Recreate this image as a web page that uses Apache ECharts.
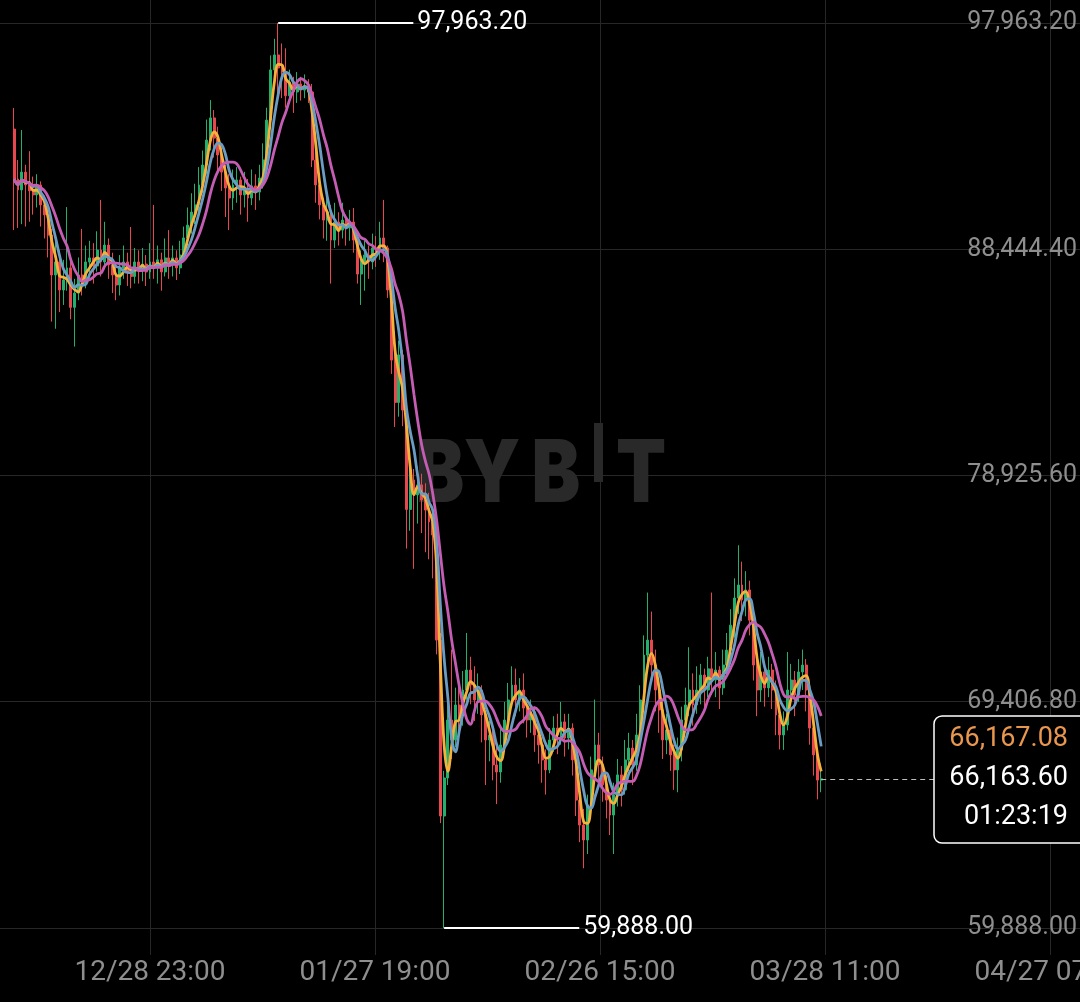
<!DOCTYPE html>
<html><head><meta charset="utf-8">
<script src="https://cdn.jsdelivr.net/npm/echarts@6/dist/echarts.min.js"></script>
<style>html,body{margin:0;padding:0;background:#000;}#c{width:1080px;height:1002px;}</style>
</head><body><div id="c"></div>
<script>
// ---- data (12h candles, time in hours relative to 12/28 23:00) ----
const firstCandleHour = -432;
const candleHours = 12;
const opens = [
93500,91400,90940,91690,91150,90900,90730,91150,90310,89890,
89040,87360,87910,86730,87150,87660,86000,86600,87360,87000,
87910,88080,87740,88410,87910,88620,87780,87360,86940,87660,
87910,87490,87300,87910,87570,87820,87490,87910,87660,88000,
87490,88080,87780,88080,87660,88200,88920,89460,90010,90310,
91150,91990,93040,93970,93120,92410,91690,91020,90600,91150,
91360,90730,91020,90600,91110,90850,91440,92200,93880,95990,
96620,96070,95900,94900,95480,95060,95400,95140,95310,95060,
92200,91150,90310,89670,90010,88830,89590,89250,89670,89340,
89590,88830,87400,87900,88200,87910,88500,88330,88920,88500,
86730,83780,82000,84000,81680,77500,78740,78110,78530,77900,
77470,76970,76420,72000,64600,66200,68640,67800,69270,68850,
69900,70740,70110,69480,69900,68850,67800,68000,66750,66450,
67590,68640,69480,70110,69480,69900,69140,68640,68980,68010,
67590,66960,66540,67800,68300,68010,68560,67880,68300,66960,
65270,64220,63590,65060,66540,67590,66750,65910,65270,64640,
65490,66330,65700,66960,67460,66750,68010,69480,71370,72000,
70950,69900,69060,67800,68220,67170,66540,67380,68640,69270,
69900,69270,69900,70530,69900,70790,70320,70740,69990,70950,
71580,72630,73770,74320,73690,74110,72840,70950,69900,70660,
69990,70740,69900,68850,68010,68430,69900,70320,69690,70660,
70950,69900,68300,67170,66110];
const highs = [
94390,92200,93460,92000,92570,91500,91600,91300,90700,90200,
89300,88900,88400,88000,90220,88000,87200,88100,89300,88600,
88800,88700,89200,90520,89600,88900,88300,87900,88200,88600,
88300,89380,88500,88400,88500,88200,88700,90310,88600,88300,
88900,89250,88600,88400,88800,89400,90200,90800,91200,91900,
92600,93900,94720,94300,93600,92700,92000,91600,91800,91900,
91500,91700,91400,91800,91600,92000,92900,94400,96600,97300,
97963.2,97100,96900,96000,95700,95900,95700,95800,95600,95400,
92600,91600,90600,90700,90300,90400,90000,90400,89900,90100,
90180,89200,88400,88800,88600,89100,89000,89600,90520,88600,
86900,85000,84600,84200,82000,79500,79200,79300,79000,78600,
78200,77600,76800,72300,66500,69500,71600,70000,70400,70700,
72300,71300,70900,70600,70100,69000,68600,68200,67500,68300,
69400,70200,70900,70800,70400,70600,69600,69500,69200,68400,
67900,67400,68300,68800,68900,69400,68900,68900,68500,67200,
65600,64900,65500,67100,69500,68100,67100,66300,65600,66000,
67000,66700,67800,68100,67800,68900,70100,72200,74000,73200,
71600,70300,69400,68900,68400,67600,67900,69200,70000,71700,
70600,70900,71000,70800,71300,74000,71500,70900,71600,72300,
73300,74600,75990,75300,74900,74500,73100,71400,71500,71100,
71300,71000,70300,69200,69000,71500,71000,70700,71200,71600,
71200,70100,68600,67400,66800];
const lows = [
89250,89340,89500,89400,89600,89900,90200,89400,88900,88100,
85400,85100,85800,86100,86700,85500,84350,86300,86500,86800,
87300,87000,87500,87300,87600,87200,86600,86300,86500,87200,
86900,86800,87000,87000,87100,86900,87200,87200,87000,86700,
87300,87200,87300,87150,87400,88000,88600,89100,89500,90000,
90800,91600,92600,92300,91700,90900,89800,89250,90100,90400,
89900,90200,89600,90300,90100,90500,91000,91900,93500,95200,
95000,94800,94400,94600,94180,94600,94700,94800,94600,91900,
90400,89700,88900,88800,87000,88500,88600,88900,88600,88800,
88300,87000,86100,86700,87200,87600,87700,88000,87900,86400,
83200,80970,81400,81000,75850,76600,75000,76900,76500,75700,
75400,74600,71400,64300,59888,65900,67000,67500,68100,68400,
69500,69300,68600,68900,67700,65900,66900,66100,65100,66000,
67300,68300,69200,68800,69000,68500,67900,68100,67300,66800,
66000,65500,66400,67300,67200,67600,67100,67400,66300,64600,
63500,62400,63000,64700,66300,66000,65200,64500,63800,63000,
65000,65000,65500,66500,65900,66500,67600,69200,70800,70300,
69000,68100,67000,67200,66500,65700,65600,66900,68100,68800,
68400,68900,69300,69100,69600,69700,69600,69100,69700,70500,
71200,72100,73100,72800,73000,72200,70300,68800,69400,69200,
69600,69100,68000,67400,67380,68200,69300,68800,69400,69900,
69000,67600,66300,65300,65600];
const closes = [
91400,90940,91690,91150,90900,90730,91150,90310,89890,89040,
87360,87910,86730,87150,87660,86000,86600,87360,87000,87910,
88080,87740,88410,87910,88620,87780,87360,86940,87660,87910,
87490,87300,87910,87570,87820,87490,87910,87660,88000,87490,
88080,87780,88080,87660,88200,88920,89460,90010,90310,91150,
91990,93040,93970,93120,92410,91690,91020,90600,91150,91360,
90730,91020,90600,91110,90850,91440,92200,93880,95990,96620,
96070,95900,94900,95480,95060,95400,95140,95310,95060,92200,
91150,90310,89670,90010,88830,89590,89250,89670,89340,89590,
88830,87400,87900,88200,87910,88500,88330,88920,88500,86730,
83780,82000,84000,81680,77500,78740,78110,78530,77900,77470,
76970,76420,72000,64600,66200,68640,67800,69270,68850,69900,
70740,70110,69480,69900,68850,67800,68000,66750,66450,67590,
68640,69480,70110,69480,69900,69140,68640,68980,68010,67590,
66960,66540,67800,68300,68010,68560,67880,68300,66960,65270,
64220,63590,65060,66540,67590,66750,65910,65270,64640,65490,
66330,65700,66960,67460,66750,68010,69480,71370,72000,70950,
69900,69060,67800,68220,67170,66540,67380,68640,69270,69900,
69270,69900,70530,69900,70790,70320,70740,69990,70950,71580,
72630,73770,74320,73690,74110,72840,70950,69900,70660,69990,
70740,69900,68850,68010,68430,69900,70320,69690,70660,70950,
69900,68300,67170,66110,66163.6];
const xTickHours = [0, 716, 1432, 2148, 2864];
const xTickLabels = ['12/28 23:00', '01/27 19:00', '02/26 15:00', '03/28 11:00', '04/27 07:00'];
const yTicks = [59888.00, 69406.80, 78925.60, 88444.40, 97963.20];
const maPeriods = [3, 5, 9];
const markPriceText = '66,167.08';
const countdownText = '01:23:19';

// ---- view / style constants ----
const xViewStart = -477.3, xViewEnd = 2959.5;   // hours visible
const yViewMin = 58752, yViewMax = 98931;       // price visible
const markerLenHours = 430;
const UP = '#22B06C', DOWN = '#E8474D';
const maColors = ['#F4B23C', '#6A9CC4', '#C45DB3'];

const fmt = v => Number(v).toLocaleString('en-US', {minimumFractionDigits: 2, maximumFractionDigits: 2});
const times = closes.map((_, i) => firstCandleHour + i * candleHours);
const candleData = closes.map((c, i) => [times[i], opens[i], c, lows[i], highs[i]]);
function movingAverage(n) {
  return closes.map((_, i) => {
    const s = Math.max(0, i - n + 1);
    let sum = 0;
    for (let k = s; k <= i; k++) sum += closes[k];
    return [times[i], sum / (i - s + 1)];
  });
}
let iMax = 0, iMin = 0;
highs.forEach((h, i) => { if (h > highs[iMax]) iMax = i; });
lows.forEach((l, i) => { if (l < lows[iMin]) iMin = i; });
const last = closes.length - 1;

const markerLabel = txt => ({show: true, position: 'end', formatter: txt, color: '#ffffff', fontSize: 25, fontFamily: 'Roboto', distance: 4});
const wm = (ch, x) => ({type: 'text', z: 1, x: x, y: 476, scaleX: 0.85, style: {text: ch, font: '900 86px Inter', fill: '#292929', align: 'center', verticalAlign: 'middle'}});
const boxText = (txt, y, color) => ({type: 'text', z: 101, x: 1068, y: y, style: {text: txt, font: '27px Roboto', fill: color, align: 'right', verticalAlign: 'middle'}});

const chart = echarts.init(document.getElementById('c'), null, {renderer: 'canvas'});
chart.setOption({
  backgroundColor: '#000000',
  animation: false,
  grid: {left: 0, right: 0, top: 0, bottom: 47, outerBoundsMode: 'none', containLabel: false},
  xAxis: {
    type: 'value', min: xViewStart, max: xViewEnd,
    axisLine: {show: false},
    axisTick: {show: false, customValues: xTickHours},
    axisLabel: {customValues: xTickHours, formatter: v => xTickLabels[xTickHours.indexOf(v)],
      color: '#8e8e8e', fontSize: 28, fontFamily: 'Roboto', margin: 4},
    splitLine: {show: true, lineStyle: {color: '#272727', width: 1}}
  },
  yAxis: {
    type: 'value', position: 'right', min: yViewMin, max: yViewMax,
    axisLine: {show: false},
    axisTick: {show: false, customValues: yTicks},
    axisLabel: {inside: true, customValues: yTicks, formatter: v => fmt(v),
      color: '#8e8e8e', fontSize: 25, fontFamily: 'Roboto', margin: 3, verticalAlign: 'middle'},
    splitLine: {show: true, lineStyle: {color: '#272727', width: 1}}
  },
  graphic: [
    {type: 'group', z: 1, silent: true, children: [
      wm('B', 440), wm('Y', 492), wm('B', 556),
      {type: 'rect', z: 1, shape: {x: 594, y: 423, width: 9, height: 59}, style: {fill: '#292929'}},
      wm('T', 641)
    ]},
    {type: 'group', z: 100, silent: true, children: [
      {type: 'rect', z: 100, shape: {x: 934, y: 716, width: 170, height: 127, r: 8}, style: {fill: '#000000', stroke: '#ffffff', lineWidth: 1.5}},
      boxText(markPriceText, 739, '#E9964F'),
      boxText(fmt(closes[last]), 778, '#ffffff'),
      boxText(countdownText, 817, '#ffffff')
    ]}
  ],
  series: [
    {
      type: 'candlestick', name: 'K',
      dimensions: ['time', 'open', 'close', 'lowest', 'highest'],
      encode: {x: 0, y: [1, 2, 3, 4]},
      data: candleData,
      barWidth: 2.4,
      itemStyle: {color: UP, color0: DOWN, borderColor: UP, borderColor0: DOWN, borderWidth: 1},
      markLine: {
        silent: true, animation: false, symbol: ['none', 'none'],
        label: {show: false},
        data: [
          [{coord: [times[iMax], highs[iMax]], lineStyle: {color: '#ffffff', width: 2, type: 'solid'}, label: markerLabel(fmt(highs[iMax]))},
           {coord: [times[iMax] + markerLenHours, highs[iMax]]}],
          [{coord: [times[iMin], lows[iMin]], lineStyle: {color: '#ffffff', width: 2, type: 'solid'}, label: markerLabel(fmt(lows[iMin]))},
           {coord: [times[iMin] + markerLenHours, lows[iMin]]}],
          [{coord: [times[last], closes[last]], lineStyle: {color: '#bdbdbd', width: 1, type: [5, 4]}, label: {show: false}},
           {coord: [xViewEnd, closes[last]]}]
        ]
      }
    },
    ...maPeriods.map((n, k) => ({
      type: 'line', name: 'MA' + n, data: movingAverage(n),
      showSymbol: false, smooth: 0.4, silent: true,
      lineStyle: {color: maColors[k], width: 2.8}
    }))
  ]
});
</script>
</body></html>
